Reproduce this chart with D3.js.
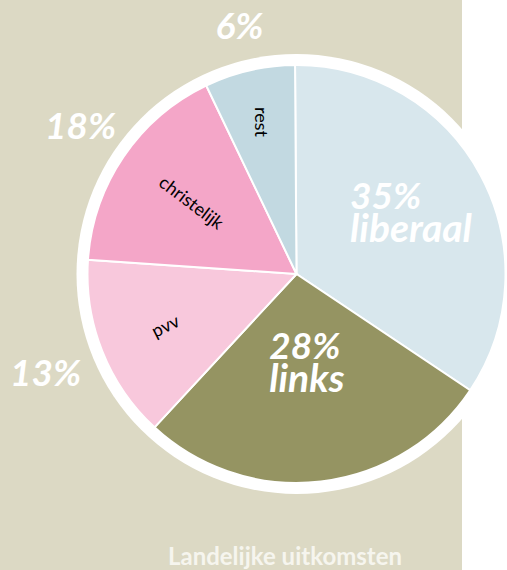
<!DOCTYPE html>
<html>
<head>
<meta charset="utf-8">
<script src="https://cdn.jsdelivr.net/npm/d3@7"></script>
<style>
  body { margin: 0; background: #fff; }
  svg text { font-family: Lato, "Open Sans", sans-serif; }
</style>
</head>
<body>
<script>
const parties = ["liberaal", "links", "pvv", "christelijk", "rest"];
const shares = [34.5, 27.5, 14.2, 16.8, 7.0];
const percentLabels = ["35%", "28%", "13%", "18%", "6%"];
const sliceColors = ["#d8e7ed", "#959462", "#f8c8dc", "#f4a6c8", "#c2d9e1"];
const title = "Landelijke uitkomsten";

const w = 507, h = 570;
const cx = 296.5, cy = 274;
const R = 209, ringR = 220;

// how each slice is labelled: "big" = white text inside, otherwise small black name + white % outside
const labelMode = ["big", "big", "small", "small", "small"];
const innerR = [130, 89, 141, 127, 156];
const innerRot = [0, 0, -27, 37, 90];
const outerR = [0, 0, 270, 261, 254];

const svg = d3.select("body").append("svg")
  .attr("width", w)
  .attr("height", h);

svg.append("rect")
  .attr("x", 0).attr("y", 0)
  .attr("width", 462).attr("height", h)
  .attr("fill", "#dcd9c4");

const g = svg.append("g")
  .attr("transform", "translate(" + cx + "," + cy + ")");

g.append("circle")
  .attr("r", ringR)
  .attr("fill", "#fff");

const pie = d3.pie()
  .sort(null)
  .startAngle(-0.007)
  .endAngle(2 * Math.PI - 0.007)
  .value((d, i) => shares[i]);

const arcs = pie(parties);
const arc = d3.arc().innerRadius(0).outerRadius(R);

g.selectAll("path.slice")
  .data(arcs)
  .enter()
  .append("path")
  .attr("class", "slice")
  .attr("d", arc)
  .attr("fill", (d, i) => sliceColors[i])
  .attr("stroke", "#fff")
  .attr("stroke-width", 2);

function pointAt(d, r) {
  const a = (d.startAngle + d.endAngle) / 2;
  return [r * Math.sin(a), -r * Math.cos(a)];
}

arcs.forEach((d, i) => {
  const p = pointAt(d, innerR[i]);
  if (labelMode[i] === "big") {
    // one text, two lines, left aligned and centred as a block on the slice
    const t = g.append("text")
      .attr("fill", "#fff")
      .attr("font-weight", "bold")
      .attr("font-style", "italic");
    const l1 = t.append("tspan")
      .attr("y", p[1] - 3)
      .attr("font-size", 37)
      .text(percentLabels[i]);
    const l2 = t.append("tspan")
      .attr("y", p[1] + 30)
      .attr("font-size", 39)
      .text(parties[i]);
    const wd = Math.max(l1.node().getComputedTextLength(), l2.node().getComputedTextLength());
    t.selectAll("tspan").attr("x", p[0] - wd / 2);
  } else {
    g.append("text")
      .attr("transform", "translate(" + p[0] + "," + p[1] + ") rotate(" + innerRot[i] + ")")
      .attr("text-anchor", "middle")
      .attr("dy", "0.35em")
      .attr("font-size", 18)
      .attr("fill", "#000")
      .text(parties[i]);

    const q = pointAt(d, outerR[i]);
    g.append("text")
      .attr("x", q[0])
      .attr("y", q[1] + 12)
      .attr("text-anchor", "middle")
      .attr("fill", "#fff")
      .attr("font-size", 37)
      .attr("font-weight", "bold")
      .attr("font-style", "italic")
      .text(percentLabels[i]);
  }
});

svg.append("text")
  .attr("x", 285)
  .attr("y", 565)
  .attr("text-anchor", "middle")
  .attr("fill", "#f6f5ee")
  .attr("font-size", 24)
  .attr("font-weight", "bold")
  .text(title);
</script>
</body>
</html>
